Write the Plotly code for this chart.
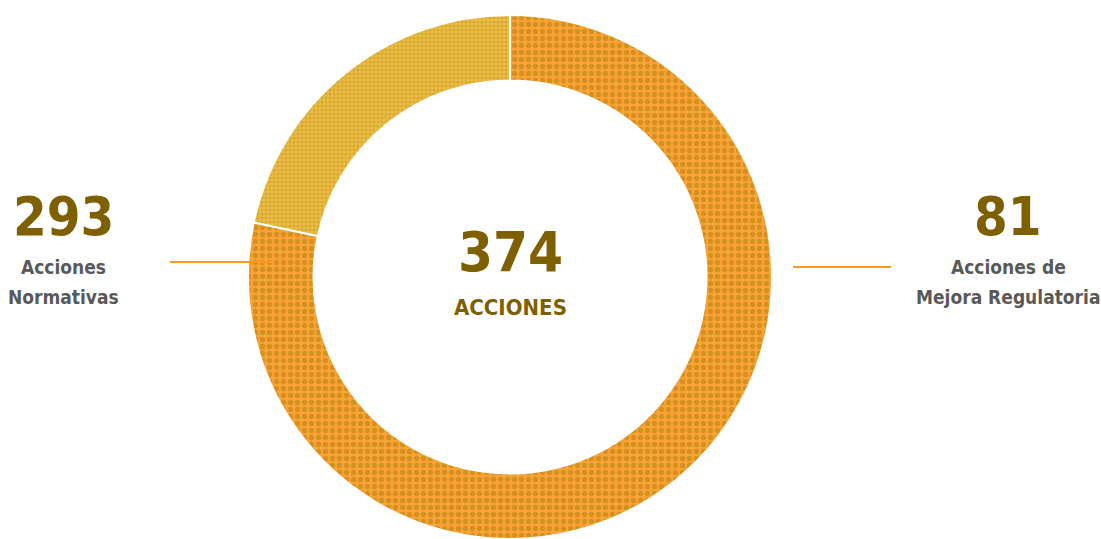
import plotly.graph_objects as go

labels = ["Acciones Normativas", "Acciones de Mejora Regulatoria"]
values = [293, 81]
total = sum(values)
colors_bg = ["#FBA236", "#EDBE45"]
colors_fg = ["#D3921E", "#D6A832"]

W, H = 1101, 539
FONT = "DejaVu Sans Condensed, DejaVu Sans, sans-serif"
DARK = "#7F6000"
GREY = "#595959"

fig = go.Figure()
fig.add_trace(go.Pie(
    labels=labels, values=values, hole=0.75, sort=False, direction="clockwise",
    rotation=0, textinfo="none", hoverinfo="label+value", showlegend=False,
    domain=dict(x=[0, 1020 / W], y=[0, 524 / H]),
    marker=dict(colors=colors_bg, line=dict(color="white", width=2),
                pattern=dict(shape=".", fgcolor=colors_fg, bgcolor=colors_bg,
                             size=[7, 4], solidity=0.45, fillmode="replace")),
))

def px(x, y):
    return x / W, 1 - y / H

def ann(x, y, text, size, color):
    ax, ay = px(x, y)
    fig.add_annotation(x=ax, y=ay, xref="paper", yref="paper",
                       text=f'<span style="font-stretch:condensed"><b>{text}</b></span>',
                       showarrow=False, xanchor="center", yanchor="middle",
                       font=dict(family=FONT, size=size, color=color))

ann(510, 251, f"{total}", 56, DARK)
ann(510, 307, "ACCIONES", 22, DARK)
ann(63, 216, f"{values[0]}", 54, DARK)
ann(63, 267, "Acciones", 19, GREY)
ann(63, 297, "Normativas", 19, GREY)
ann(1008, 216, f"{values[1]}", 54, DARK)
ann(1008, 267, "Acciones de", 19, GREY)
ann(1008, 297, "Mejora Regulatoria", 19, GREY)

for x0, x1, y in [(170, 272, 262), (793, 891, 267)]:
    fig.add_shape(type="line", xref="paper", yref="paper",
                  x0=x0 / W, x1=x1 / W, y0=1 - y / H, y1=1 - y / H,
                  line=dict(color="#FA9A1E", width=2))

fig.update_layout(width=W, height=H, margin=dict(l=0, r=0, t=0, b=0),
                  paper_bgcolor="white", plot_bgcolor="white")
fig.write_html("out.html", config={"displayModeBar": False},
               post_script="document.body.style.margin='0';document.body.style.padding='0';")
